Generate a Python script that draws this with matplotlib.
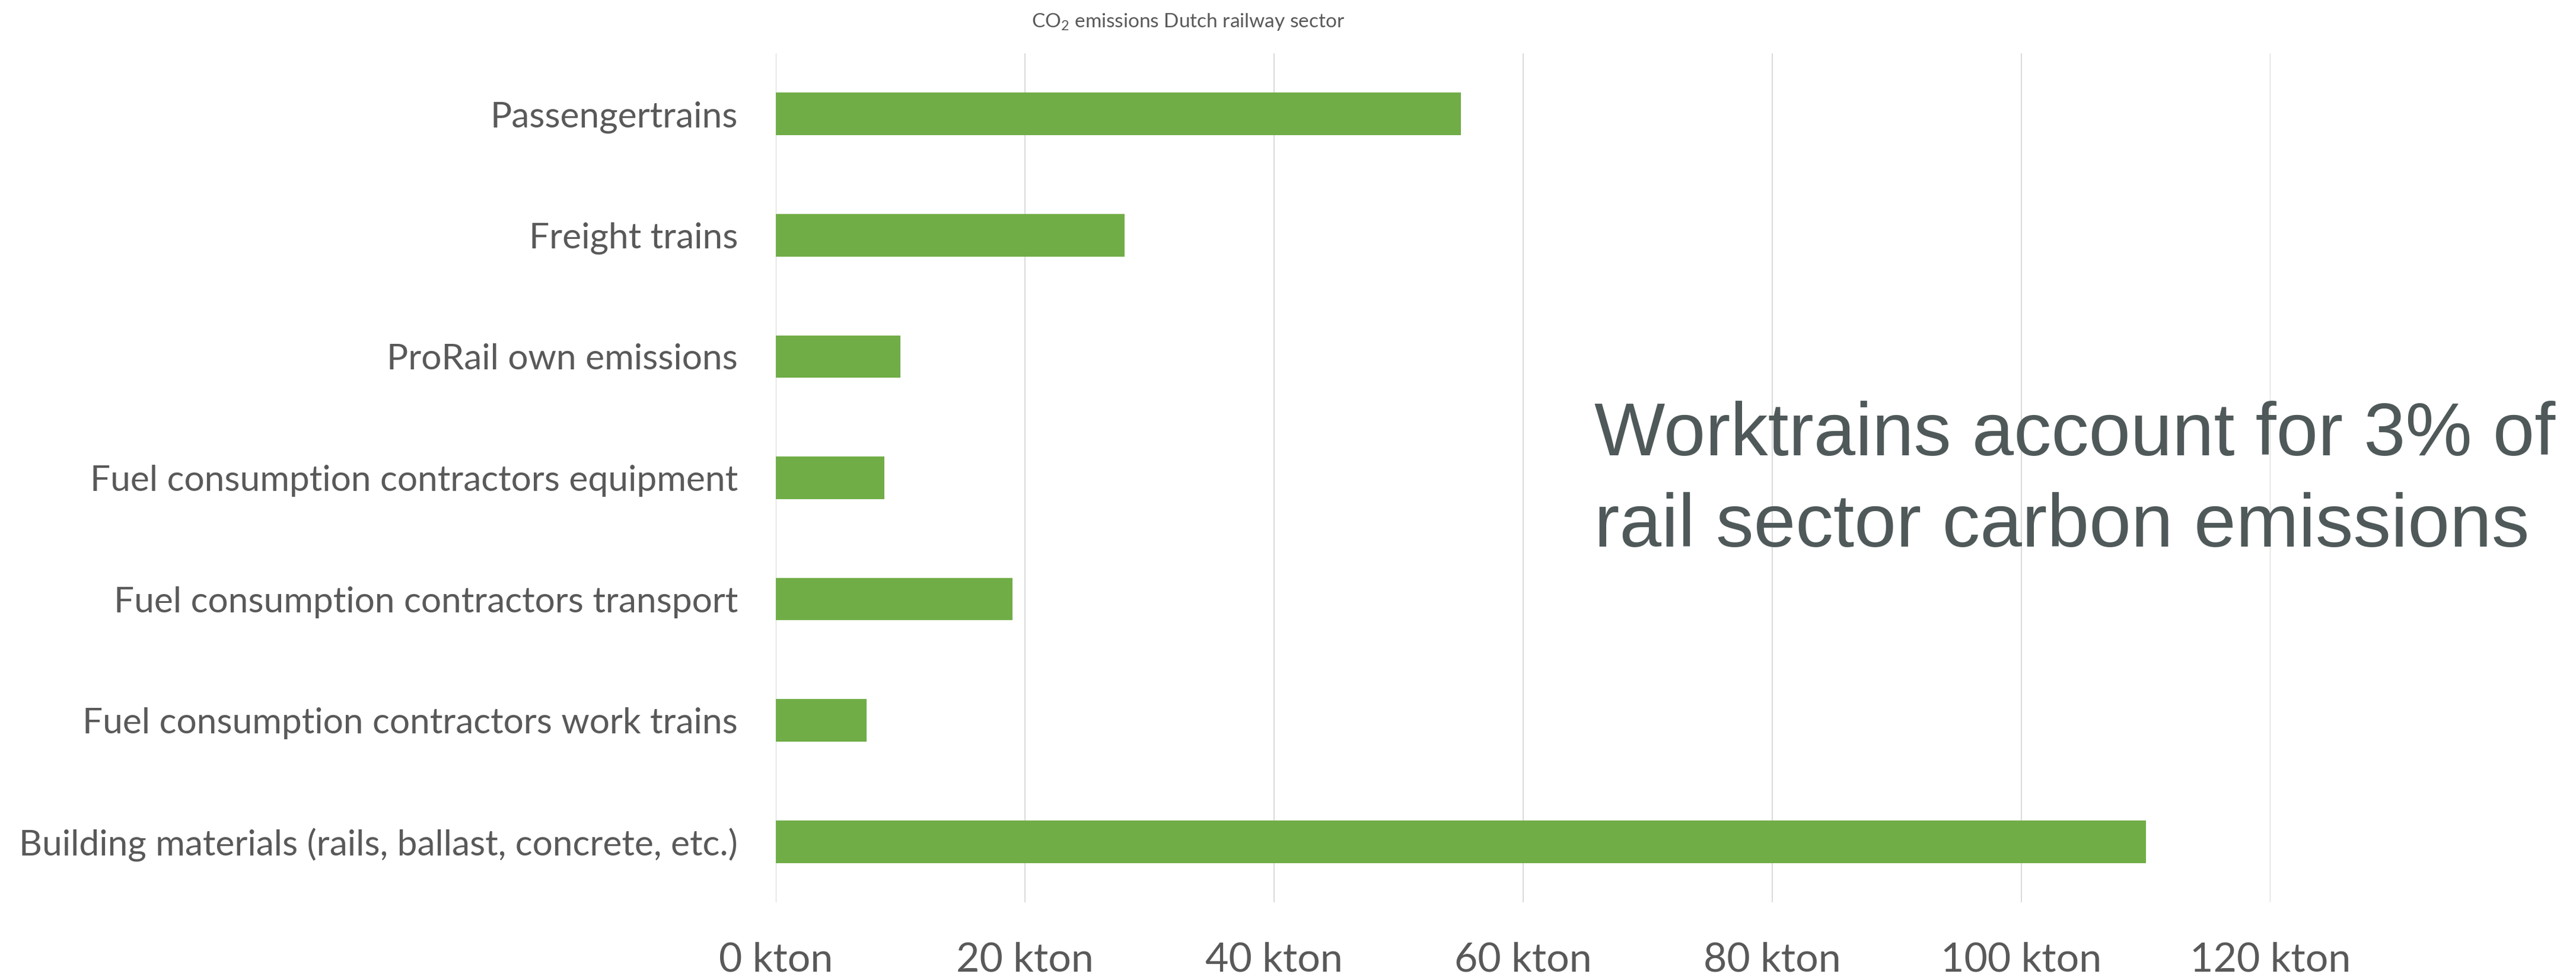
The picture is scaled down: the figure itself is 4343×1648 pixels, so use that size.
import matplotlib
matplotlib.use("Agg")
import matplotlib.pyplot as plt
from matplotlib.ticker import FuncFormatter

# values in kton CO2 (top to bottom)
categories = ['Passengertrains',
              'Freight trains',
              'ProRail own emissions',
              'Fuel consumption contractors equipment',
              'Fuel consumption contractors transport',
              'Fuel consumption contractors work trains',
              'Building materials (rails, ballast, concrete, etc.)']
emissions = [55, 28, 10, 8.7, 19, 7.3, 110]
xTicks = [0, 20, 40, 60, 80, 100, 120]

W, H = 4343, 1648
labelColor = '#595959'
barColor = '#70AD47'
gridColor = '#D9D9D9'

plt.rcParams['font.family'] = ['Lato', 'DejaVu Sans']
plt.rcParams['mathtext.fontset'] = 'custom'
plt.rcParams['mathtext.rm'] = 'Lato'

fig = plt.figure(figsize=(W / 100, H / 100), dpi=100)
ax = fig.add_axes([1308 / W, (H - 1522) / H, (3828 - 1308) / W, (1522 - 90) / H])

ypos = list(range(len(categories)))
ax.barh(ypos, emissions, height=0.35, color=barColor, zorder=3)

ax.set_xlim(0, 120)
ax.set_ylim(len(categories) - 0.5, -0.5)
ax.set_xticks(xTicks)
ax.xaxis.set_major_formatter(FuncFormatter(lambda v, p: f'{int(v)} kton'))
ax.set_yticks(ypos)
ax.set_yticklabels(categories)

ax.grid(True, axis='x', color=gridColor, linewidth=1.4, zorder=0)
for s in ax.spines.values():
    s.set_visible(False)
ax.tick_params(axis='x', length=0, pad=48, labelsize=49, labelcolor=labelColor)
ax.tick_params(axis='y', length=0, pad=46, labelsize=43.5, labelcolor=labelColor)

fig.text(2003 / W, 1 - 37 / H, r'CO$_\mathrm{2}$ emissions Dutch railway sector',
         ha='center', va='center', fontsize=24, color=labelColor)

noteColor = '#505959'
fig.text(2688 / W, 1 - 768 / H, 'Worktrains account for 3% of',
         ha='left', va='baseline', fontsize=91, color=noteColor,
         family='Liberation Sans')
fig.text(2688 / W, 1 - 922 / H, 'rail sector carbon emissions',
         ha='left', va='baseline', fontsize=91.5, color=noteColor,
         family='Liberation Sans')

fig.savefig('out.png', dpi=100)
